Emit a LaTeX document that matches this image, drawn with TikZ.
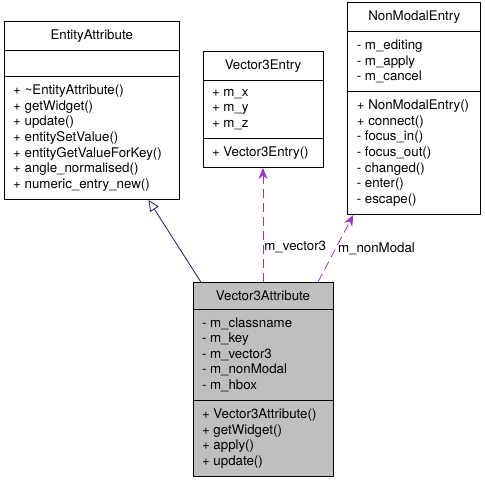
\documentclass[tikz,border=0pt]{standalone}
\usepackage{fontspec}
\setmainfont{TeX Gyre Heros}
\usepackage{xcolor}
\usepackage{tikz}
\usetikzlibrary{shapes.multipart,positioning,arrows.meta}

\definecolor{inhblue}{HTML}{191970}
\definecolor{usepurple}{HTML}{9A32CD}
\definecolor{selgray}{HTML}{BFBFBF}

\begin{document}
\begin{tikzpicture}[x=1pt, y=-1pt,
    every node/.style={font=\fontsize{13.3}{15.6}\selectfont},
    umlclass/.style={rectangle split, rectangle split parts=3, draw, line width=0.8pt,
      align=left, inner xsep=9pt, inner ysep=8pt,
      rectangle split part align={center,left,left},
      rectangle split empty part height=9pt},
    inherit/.style={draw=inhblue, line width=0.8pt, -{Triangle[open,length=11pt,width=10pt]}},
    uses/.style={draw=usepurple, line width=0.8pt, dash pattern=on 9pt off 5pt,
      -{Stealth[length=11pt,width=9pt]}}]
        \useasboundingbox (0,0) rectangle (485,480);

        \node[umlclass, fill=selgray, minimum width=140pt, anchor=north] (v3a) at (263,282)
            {Vector3Attribute
             \nodepart{two} - m\_classname\\- m\_key\\- m\_vector3\\- m\_nonModal\\- m\_hbox
             \nodepart{three} + Vector3Attribute()\\+ getWidget()\\+ apply()\\+ update()};
        \node[umlclass, minimum width=120pt, above=114pt of v3a] (v3e)
            {Vector3Entry
             \nodepart{two} + m\_x\\+ m\_y\\+ m\_z
             \nodepart{three} + Vector3Entry()};
        \node[umlclass, minimum width=175pt, above left=82pt and 13pt of v3a] (ea)
            {EntityAttribute
             \nodepart{two}
             \nodepart{three} + \textasciitilde EntityAttribute()\\+ getWidget()\\+ update()\\+ entitySetValue()\\+ entityGetValueForKey()\\+ angle\_normalised()\\+ numeric\_entry\_new()};
        \node[umlclass, minimum width=133pt, above right=67pt and 14pt of v3a] (nme)
            {NonModalEntry
             \nodepart{two} - m\_editing\\- m\_apply\\- m\_cancel
             \nodepart{three} + NonModalEntry()\\+ connect()\\- focus\_in()\\- focus\_out()\\- changed()\\- enter()\\- escape()};

        \path
        (v3a) edge [inherit] (ea)
        (v3a) edge [uses] node [pos=0.31, anchor=west, inner xsep=1pt] {m\_vector3} (v3e)
        ([xshift=55pt]v3a.north) edge [uses] node [pos=0.5, anchor=west, inner xsep=2pt] {m\_nonModal} ([xshift=-61pt]nme.south);
    \end{tikzpicture}
\end{document}
